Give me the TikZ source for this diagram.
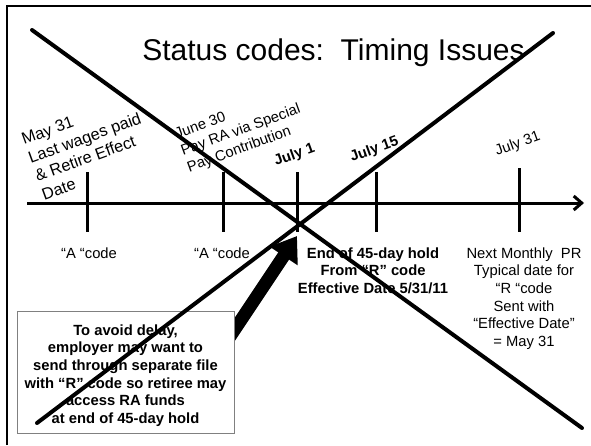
\documentclass[tikz,border=0pt]{standalone}
\usepackage{fontspec}
\setmainfont{Liberation Sans}
\usetikzlibrary{arrows.meta}
\begin{document}
\begin{tikzpicture}[x=1pt,y=-1pt,
  txt/.style={inner sep=0pt, font=\fontsize{14.76}{17.7}\selectfont},
  txtb/.style={inner sep=0pt, font=\fontsize{14.76}{17.7}\selectfont\bfseries},
  txtl/.style={inner sep=0pt, font=\fontsize{16.4}{19.7}\selectfont},
  tickline/.style={line width=3pt},
  crossline/.style={line width=4pt, line cap=round},
  frameline/.style={line width=2pt},
  bigarrow/.style={line width=13pt, -{Triangle[length=24pt,width=32pt]}},
  notebox/.style={draw=black!50, fill=white, line width=1pt, inner sep=0pt,
                  minimum width=217pt, minimum height=122pt}
  ]
\useasboundingbox (0,0) rectangle (591,445);
\fill[white] (0,0) rectangle (591,445);
% frame (top and left edges)
\coordinate (frBL) at (7,445);
\coordinate (frTL) at (7,6);
\coordinate (frTR) at (591,6);
\draw[frameline] (frBL) -- (frTL) -- (frTR);

% title
\node[inner sep=0pt, font=\fontsize{30}{36}\selectfont, anchor=base] (title) at (333.5,60)
  {Status codes:\ \ Timing Issues};

% time axis
\coordinate (axL) at (27,203);
\coordinate (axR) at (584,203);
\draw[line width=3pt, -{Straight Barb[length=8pt,width=14pt]}] (axL) -- (axR);

% ticks
\foreach \n/\x/\t in {a/87/172, b/223/172, c/297/172, d/376/172, e/519/168}{
  \coordinate (tick\n top) at (\x,\t);
  \coordinate (tick\n bot) at (\x,232);
  \draw[tickline] (tick\n top) -- (tick\n bot);
}

% rotated labels above the axis
\node[txtl, rotate=20, anchor=base west] (may) at (24,145)
  {\begin{tabular}[t]{@{}l@{}}May 31\\Last wages paid\\\& Retire Effect\\Date\end{tabular}};
\node[txt, rotate=20, anchor=base west] (june) at (177,139)
  {\begin{tabular}[t]{@{}l@{}}June 30\\Pay RA via Special\\Pay Contribution\end{tabular}};
\node[txtb, rotate=20, anchor=base west] (july1) at (276,166) {July 1};
\node[txtb, rotate=20, anchor=base west] (july15) at (352,162) {July 15};
\node[txt, rotate=20, anchor=base west] (july31) at (497,156) {July 31};

% labels below the axis
\node[txt, anchor=base] (acode1) at (89,258) {“A “code};
\node[txt, anchor=base] (acode2) at (222,258) {“A “code};
\node[txtb, anchor=base] (hold) at (373,258)
  {\begin{tabular}[t]{@{}c@{}}End of 45-day hold\\From “R” code\\Effective Date 5/31/11\end{tabular}};
\node[txt, anchor=base] (nextpr) at (524,258)
  {\begin{tabular}[t]{@{}c@{}}Next Monthly~~PR\\Typical date for\\“R “code\\Sent with\\“Effective Date”\\= May 31\end{tabular}};

% big arrow
\coordinate (bigtail) at (229,338);
\coordinate (bigtip) at (297,236);
\draw[bigarrow] (bigtail) -- (bigtip);

% note box
\node[notebox] (box) at (125.5,372) {};
\node[txtb, anchor=base] (boxtext) at (125.5,335)
  {\begin{tabular}[t]{@{}c@{}}To avoid delay,\\employer may want to\\send through separate file\\with “R” code so retiree may\\access RA funds\\at end of 45-day hold\end{tabular}};

% crossing lines
\coordinate (c1a) at (32,30);
\coordinate (c1b) at (582,428);
\coordinate (c2a) at (37,423);
\coordinate (c2b) at (553,33);
\draw[crossline] (c1a) -- (c1b);
\draw[crossline] (c2a) -- (c2b);
\end{tikzpicture}
\end{document}
